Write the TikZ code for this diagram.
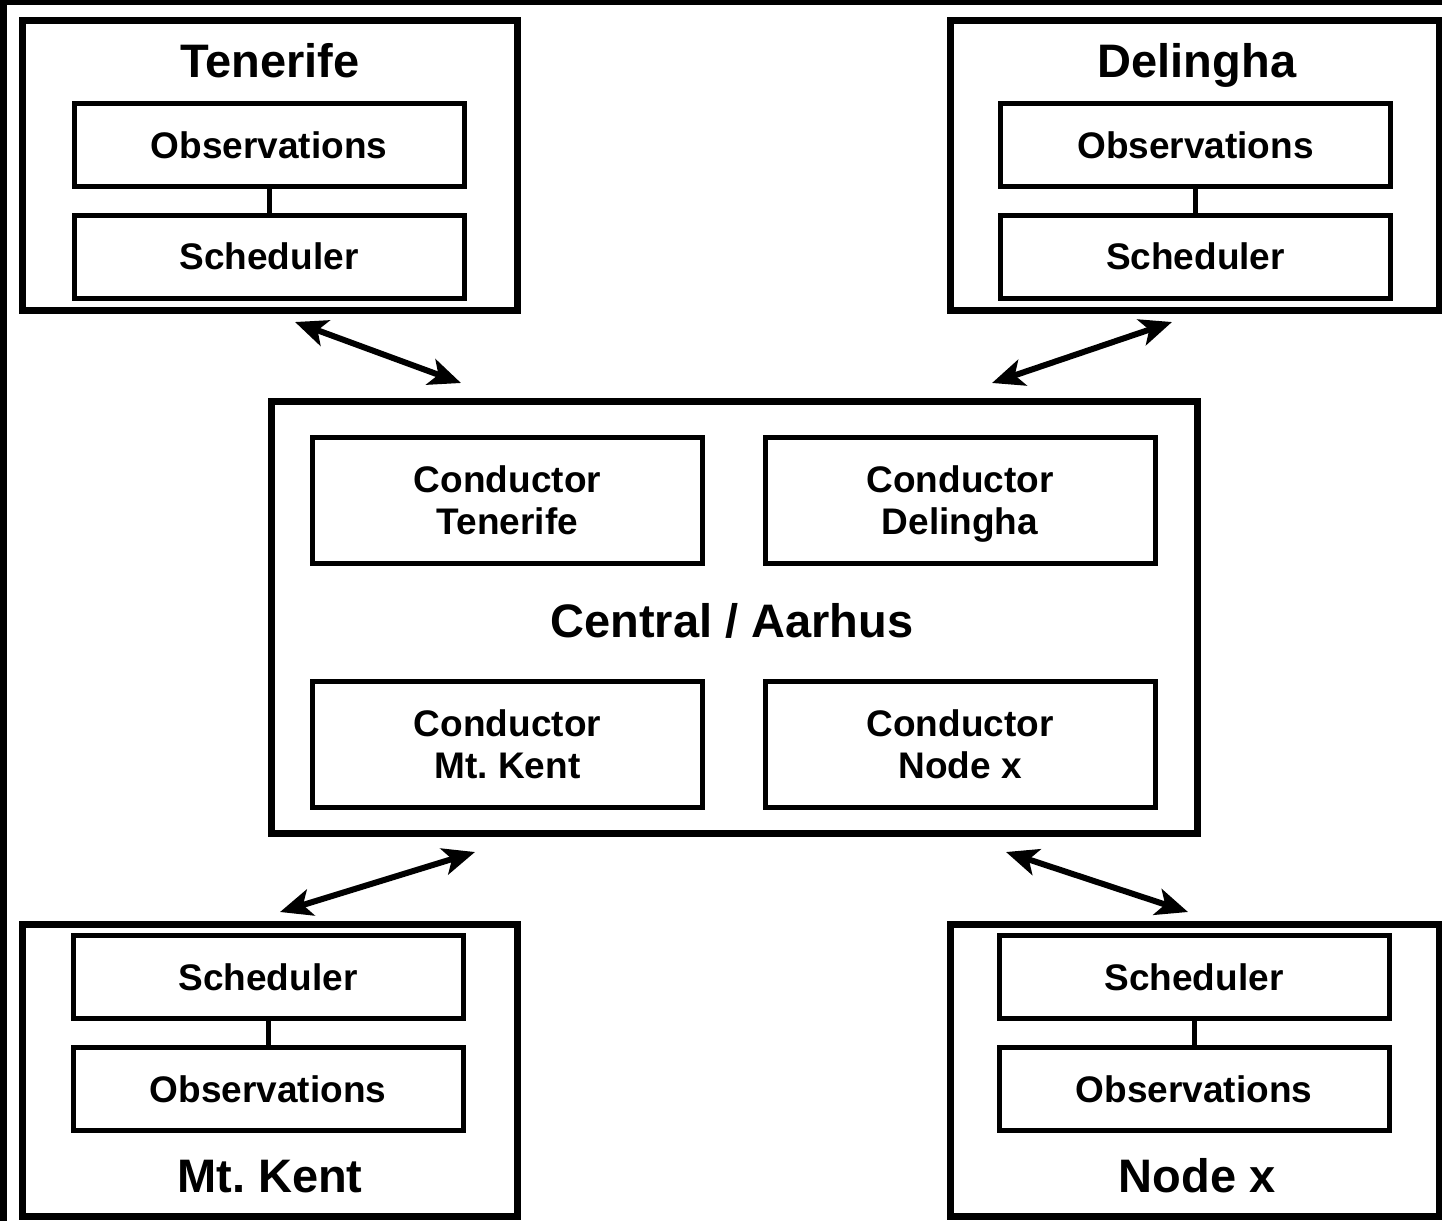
\documentclass[tikz,border=0pt]{standalone}
\usepackage{fontspec}
\setmainfont{Liberation Sans}
\frenchspacing
\usetikzlibrary{arrows.meta,positioning}
\tikzset{
    site/.style={draw,line width=7pt,inner sep=0pt},
    unit/.style={draw,line width=5pt,inner sep=0pt,minimum width=390pt,minimum height=83pt,
        font=\fontsize{37}{42}\selectfont\bfseries},
    cond/.style={unit,minimum height=126pt,align=center,text depth=0pt},
    sitename/.style={anchor=base,font=\fontsize{47}{52}\selectfont\bfseries},
    link/.style={line width=6pt,{Stealth[length=32pt,width=27pt,inset=8pt]}-{Stealth[length=32pt,width=27pt,inset=8pt]}}
}

\begin{document}
\begin{tikzpicture}[x=1pt,y=-1pt]
            \useasboundingbox (0,0) rectangle (1442,1221);
            \fill [black] (0,0) rectangle (1442,1221);
            \fill [white] (7,5) rectangle (1442,1221);
            % sites at the top
            \node [site,minimum width=495pt,minimum height=290pt] (ten) at (269.5,165) {};
            \node [sitename] (tenName) at (270,77) {Tenerife};
            \node [unit] (tenObs) at (269,145) {Observations};
            \node [unit] (tenSch) at (269,256.5) {Scheduler};
            \draw [line width=5pt] (tenObs) -- (tenSch);
            \node [site,minimum width=489pt,minimum height=290pt] (del) at (1194.5,165) {};
            \node [sitename] (delName) at (1197,77) {Delingha};
            \node [unit] (delObs) at (1195.5,145) {Observations};
            \node [unit] (delSch) at (1195.5,256.5) {Scheduler};
            \draw [line width=5pt] (delObs) -- (delSch);
            % central
            \node [site,minimum width=926pt,minimum height=432pt] (cen) at (734,617) {};
            \node [sitename] (cenName) at (732,637) {Central / Aarhus};
            \node [cond] (condTen) at (507.5,500) {Conductor\\Tenerife};
            \node [cond] (condDel) at (960,500) {Conductor\\Delingha};
            \node [cond] (condKent) at (507.5,744) {Conductor\\Mt. Kent};
            \node [cond] (condX) at (960,744) {Conductor\\Node x};
            % sites at the bottom
            \node [site,minimum width=495pt,minimum height=292pt] (kent) at (269.5,1070) {};
            \node [sitename] (kentName) at (270,1192) {Mt. Kent};
            \node [unit] (kentSch) at (268,977) {Scheduler};
            \node [unit] (kentObs) at (268,1089) {Observations};
            \draw [line width=5pt] (kentSch) -- (kentObs);
            \node [site,minimum width=489pt,minimum height=292pt] (nx) at (1194.5,1070) {};
            \node [sitename] (nxName) at (1197,1192) {Node x};
            \node [unit] (nxSch) at (1194,977) {Scheduler};
            \node [unit] (nxObs) at (1194,1089) {Observations};
            \draw [line width=5pt] (nxSch) -- (nxObs);
            % links
            \coordinate (tenEnd) at (295,322);
            \coordinate (cenTen) at (461,383);
            \coordinate (delEnd) at (1172,322);
            \coordinate (cenDel) at (992,383);
            \coordinate (kentEnd) at (280,912);
            \coordinate (cenKent) at (475,852);
            \coordinate (nxEnd) at (1188,912);
            \coordinate (cenX) at (1006,852);
            \draw [link] (tenEnd) -- (cenTen);
            \draw [link] (delEnd) -- (cenDel);
            \draw [link] (kentEnd) -- (cenKent);
            \draw [link] (nxEnd) -- (cenX);
        \end{tikzpicture}
\end{document}
